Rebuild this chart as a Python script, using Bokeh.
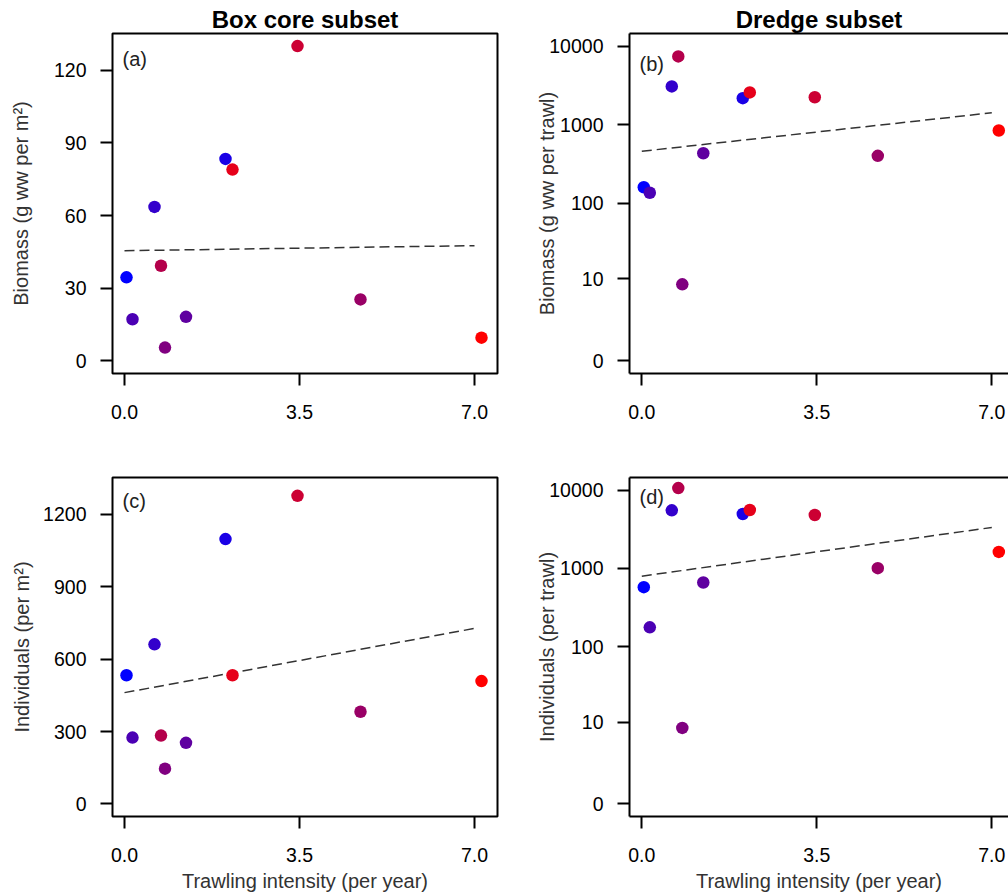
import math
from bokeh.plotting import figure
from bokeh.layouts import row, column
from bokeh.models import (Range1d, FixedTicker, LinearAxis, CustomJSTickFormatter,
                          PrintfTickFormatter, Label, ColumnDataSource)
from bokeh.embed import file_html
from bokeh.resources import INLINE

# ---------------- data ----------------
trawling = [0.04, 0.16, 0.60, 0.73, 0.81, 1.23, 2.02, 2.16, 3.46, 4.72, 7.14]
station_colors = ["#0000FF", "#4B00B4", "#3300CC", "#B4004B", "#800080", "#5F00A0",
                  "#1A00E6", "#E6001A", "#CC0033", "#990066", "#FF0000"]

box_biomass = [34.5, 17.2, 63.6, 39.3, 5.5, 18.2, 83.4, 79.0, 130.0, 25.4, 9.6]
dredge_biomass = [160, 136, 3070, 7400, 8.4, 434, 2180, 2575, 2240, 402, 845]
box_individuals = [533, 275, 661, 283, 146, 253, 1097, 533, 1276, 382, 509]
dredge_individuals = [578, 177, 5520, 10600, 8.3, 663, 4950, 5570, 4810, 1010, 1628]

trend_x = [0.0, 7.0]
trend_box_biomass = [45.5, 47.6]
trend_dredge_biomass = [460, 1420]
trend_box_individuals = [461, 727]
trend_dredge_individuals = [799, 3335]

x_ticks = [0.0, 3.5, 7.0]
box_biomass_ticks = [0, 30, 60, 90, 120]
box_individuals_ticks = [0, 300, 600, 900, 1200]
dredge_ticks = [0, 10, 100, 1000, 10000]

titles = ["Box core subset", "Dredge subset"]
FONT = "Liberation Sans"


def log1p10(vals):
    return [math.log10(v + 1) for v in vals]


def panel(col, rowi, ys, trend, ylabel, yticks, log, tag, tag_dy, ylab_standoff):
    W = 507 if col == 0 else 501
    mbl = 112 if col == 0 else 122
    mbr = 10 if col == 0 else 0
    fw = W - mbl - mbr
    H = 447
    mbt = 33 if rowi == 0 else 30
    mbb = 74 if rowi == 0 else 77
    fh = H - mbt - mbb
    xr = (-0.24, 7.46) if col == 0 else (-0.246, 7.334)
    if log:
        yr = (-0.16, 4.16)
    elif rowi == 0:
        yr = (-5.2, 135.2)
    else:
        yr = (-52, 1352)

    p = figure(width=W, height=H, x_range=Range1d(*xr), y_range=Range1d(*yr),
               output_backend="svg", toolbar_location=None,
               min_border_left=mbl, min_border_right=mbr,
               min_border_top=mbt, min_border_bottom=mbb)
    p.xgrid.visible = False
    p.ygrid.visible = False
    p.background_fill_color = "white"
    p.border_fill_color = "white"

    yv = log1p10(ys) if log else list(ys)
    tv = log1p10(trend) if log else list(trend)

    p.line(trend_x, tv, line_color="#333333", line_width=1.5, line_dash="10 5")
    src = ColumnDataSource(dict(x=trawling, y=yv, c=station_colors))
    p.scatter("x", "y", source=src, size=12.5, fill_color="c", line_color=None)

    for ax in (p.xaxis[0], p.yaxis[0]):
        ax.major_tick_in = 0
        ax.major_tick_out = 12
        ax.minor_tick_in = 0
        ax.minor_tick_out = 0
        ax.major_tick_line_width = 2
        ax.major_tick_line_color = "black"
        ax.major_label_text_font = FONT
        ax.major_label_text_font_size = "19.5px"
        ax.major_label_text_color = "black"
        if col == 0:
            ax.axis_line_color = None
        else:
            ax.axis_line_color = "black"
            ax.axis_line_width = 2
        ax.axis_label_text_font = FONT
        ax.axis_label_text_font_size = "20px"
        ax.axis_label_text_font_style = "normal"
        ax.axis_label_text_color = "#333333"

    p.xaxis.ticker = FixedTicker(ticks=x_ticks)
    p.xaxis.formatter = PrintfTickFormatter(format="%.1f")
    p.xaxis.major_label_standoff = 19
    if rowi == 1:
        p.xaxis.axis_label = "Trawling intensity (per year)"
        p.xaxis.axis_label_standoff = 5

    p.yaxis.ticker = FixedTicker(ticks=log1p10(yticks) if log else yticks)
    if log:
        p.yaxis.formatter = CustomJSTickFormatter(
            code="return Math.round(Math.pow(10, tick) - 1).toString();")
    p.yaxis.major_label_standoff = 14
    p.yaxis.axis_label = ylabel
    p.yaxis.axis_label_standoff = ylab_standoff

    if col == 0:
        p.outline_line_color = "black"
        p.outline_line_width = 2
    else:
        p.outline_line_color = None
        top = LinearAxis(ticker=FixedTicker(ticks=[]), axis_line_width=2,
                         axis_line_color="black", major_tick_out=0, major_tick_in=0,
                         minor_tick_out=0, minor_tick_in=0,
                         major_label_text_font_size="0px")
        p.add_layout(top, "above")

    if rowi == 0:
        p.title.text = titles[col]
        p.title.align = "center"
        p.title.text_font = FONT
        p.title.text_font_size = "24px"
        p.title.text_font_style = "bold"
        p.title.text_color = "black"
        p.title.standoff = 2

    xs = (xr[1] - xr[0]) / fw
    ys_ = (yr[1] - yr[0]) / fh
    p.add_layout(Label(x=xr[0] + 10 * xs, y=yr[1] - tag_dy * ys_, text=tag,
                       text_font=FONT, text_font_size="20px", text_color="#222222",
                       text_align="left", text_baseline="middle"))
    return p


pa = panel(0, 0, box_biomass, trend_box_biomass, "Biomass (g ww per m²)",
           box_biomass_ticks, False, "(a)", 25, 19)
pb = panel(1, 0, dredge_biomass, trend_dredge_biomass, "Biomass (g ww per trawl)",
           dredge_ticks, True, "(b)", 30, -12)
pc = panel(0, 1, box_individuals, trend_box_individuals, "Individuals (per m²)",
           box_individuals_ticks, False, "(c)", 24, 7)
pd = panel(1, 1, dredge_individuals, trend_dredge_individuals, "Individuals (per trawl)",
           dredge_ticks, True, "(d)", 20, -12)

layout = column(row(pa, pb), row(pc, pd))
open("out.html", "w").write(file_html(layout, INLINE))
